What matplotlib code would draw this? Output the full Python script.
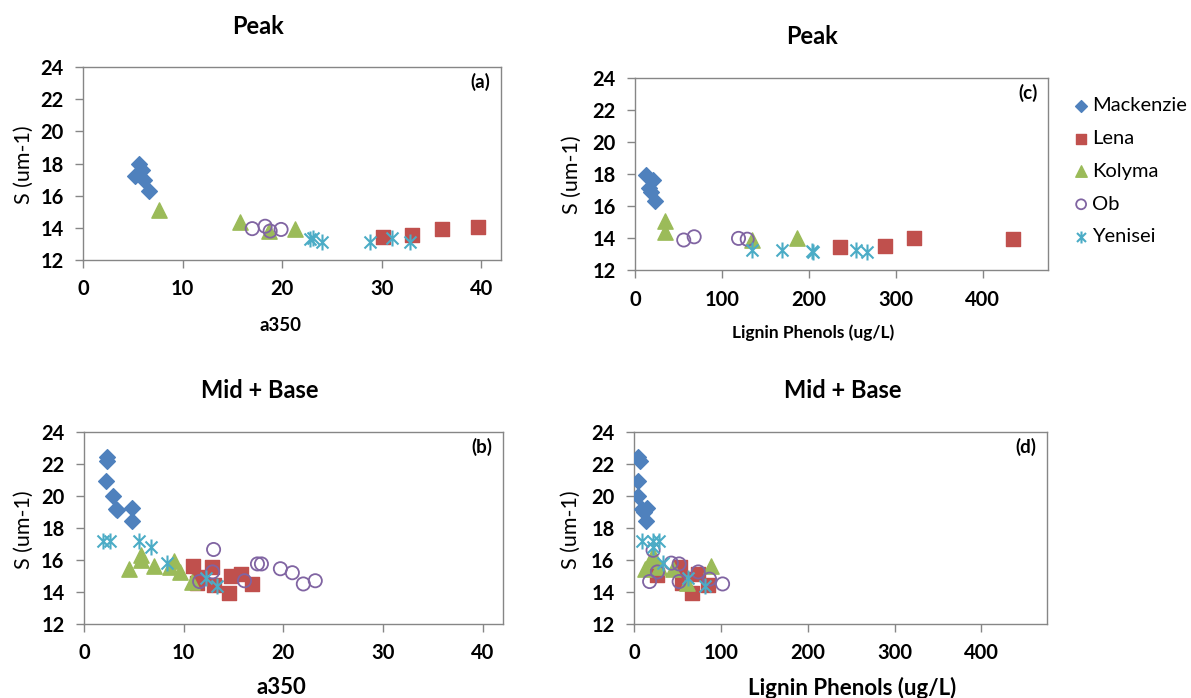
import numpy as np
import matplotlib
matplotlib.use("Agg")
import matplotlib.pyplot as plt
from matplotlib.path import Path

plt.rcParams['font.family'] = ['Lato', 'DejaVu Sans']
plt.rcParams['font.weight'] = 'bold'

# ---- data ----
# (a) Peak, a350
a_mack_x = [5.2, 5.6, 5.9, 6.1, 6.6]
a_mack_y = [17.2, 18.0, 17.6, 17.0, 16.3]
a_lena_x = [30.1, 33.1, 36.1, 39.7]
a_lena_y = [13.45, 13.55, 13.95, 14.05]
a_koly_x = [7.6, 15.8, 18.7, 21.3]
a_koly_y = [15.1, 14.35, 13.8, 13.95]
a_ob_x = [17.0, 18.3, 18.8, 19.9]
a_ob_y = [13.95, 14.1, 13.8, 13.9]
a_yen_x = [22.8, 23.1, 24.0, 28.8, 31.0, 32.9]
a_yen_y = [13.3, 13.35, 13.15, 13.15, 13.35, 13.15]

# (c) Peak, lignin phenols
c_mack_x = [13, 21, 16, 18, 23]
c_mack_y = [17.95, 17.65, 17.15, 16.9, 16.3]
c_lena_x = [236, 287, 321, 435]
c_lena_y = [13.45, 13.55, 14.05, 13.95]
c_koly_x = [35, 35, 134, 186]
c_koly_y = [15.1, 14.4, 13.9, 14.0]
c_ob_x = [56, 68, 119, 129]
c_ob_y = [13.9, 14.1, 14.0, 13.95]
c_yen_x = [135, 169, 203, 205, 254, 267]
c_yen_y = [13.25, 13.3, 13.2, 13.15, 13.3, 13.15]

# (b) Mid + Base, a350
b_mack_x = [2.3, 2.3, 2.2, 2.9, 3.2, 3.3, 4.8, 4.8]
b_mack_y = [22.45, 22.15, 20.95, 20.0, 19.15, 19.1, 19.25, 18.45]
b_lena_x = [10.9, 11.5, 11.3, 12.8, 13.0, 14.5, 14.7, 15.7, 16.9]
b_lena_y = [15.6, 14.95, 14.55, 15.55, 14.45, 13.95, 15.0, 15.15, 14.5]
b_koly_x = [4.5, 5.7, 5.7, 7.0, 8.6, 9.0, 9.6, 10.8]
b_koly_y = [15.45, 16.3, 16.0, 15.6, 15.55, 15.95, 15.25, 14.65]
b_ob_x = [13.0, 12.9, 11.6, 16.1, 17.4, 17.8, 19.7, 20.9, 22.0, 23.2]
b_ob_y = [16.65, 15.25, 14.65, 14.7, 15.75, 15.75, 15.45, 15.2, 14.5, 14.7]
b_yen_x = [1.9, 2.6, 5.5, 6.7, 8.3, 12.2, 13.3]
b_yen_y = [17.15, 17.15, 17.2, 16.8, 15.8, 14.85, 14.35]

# (d) Mid + Base, lignin phenols
d_mack_x = [5, 7, 5, 5, 9, 15, 14, 11]
d_mack_y = [22.45, 22.15, 20.95, 20.0, 19.15, 19.25, 18.4, 19.0]
d_lena_x = [26, 53, 55, 56, 67, 74, 85]
d_lena_y = [15.05, 15.55, 14.55, 14.8, 13.95, 15.15, 14.45]
d_koly_x = [13, 20, 22, 29, 45, 61, 89]
d_koly_y = [15.45, 16.0, 16.3, 15.55, 15.45, 14.55, 15.6]
d_ob_x = [18, 22, 27, 43, 52, 52, 74, 87, 102]
d_ob_y = [14.65, 16.6, 15.25, 15.8, 15.75, 14.65, 15.25, 14.8, 14.5]
d_yen_x = [9, 22, 29, 22, 33, 62, 82]
d_yen_y = [17.15, 17.15, 17.15, 16.8, 15.8, 14.85, 14.35]

names = ['Mackenzie', 'Lena', 'Kolyma', 'Ob', 'Yenisei']

# Excel-like asterisk: X plus vertical bar
star = Path([(0, -1), (0, 1), (-0.75, -0.75), (0.75, 0.75), (-0.75, 0.75), (0.75, -0.75)],
            [Path.MOVETO, Path.LINETO, Path.MOVETO, Path.LINETO, Path.MOVETO, Path.LINETO])

styles = {
    'Mackenzie': dict(marker='D', s=8.0**2, c='#4F81BD', edgecolors='#4F81BD'),
    'Lena': dict(marker='s', s=10**2, c='#C0504D', edgecolors='#C0504D'),
    'Kolyma': dict(marker='^', s=11**2, c='#9BBB59', edgecolors='#9BBB59'),
    'Ob': dict(marker='o', s=9.5**2, facecolors='none', edgecolors='#8064A2', linewidths=1.3),
    'Yenisei': dict(marker=star, s=11.5**2, c='#4BACC6', linewidths=1.5),
}

gray = '#868686'


def draw(ax, series, xmax, xticks, tag):
    for name, (xs, ys) in zip(names, series):
        ax.scatter(xs, ys, label=name, zorder=3, **styles[name])
    ax.set_xlim(0, xmax)
    ax.set_ylim(12, 24)
    ax.set_xticks(xticks)
    ax.set_yticks(range(12, 25, 2))
    for sp in ax.spines.values():
        sp.set_color(gray)
        sp.set_linewidth(1)
    ax.tick_params(direction='out', length=6, color=gray, width=1,
                   labelsize=14.5, pad=8)
    ax.text(0.975, 0.92, tag, transform=ax.transAxes, ha='right', va='center',
            fontsize=13.5, fontweight='bold')


fig = plt.figure(figsize=(11.91, 6.98), dpi=100)

ax_a = fig.add_axes([0.0697, 0.6275, 0.351, 0.2765])
ax_c = fig.add_axes([0.5332, 0.6125, 0.3468, 0.2758])
ax_b = fig.add_axes([0.0705, 0.106, 0.3516, 0.2755])
ax_d = fig.add_axes([0.5323, 0.106, 0.3465, 0.2755])

draw(ax_a, [(a_mack_x, a_mack_y), (a_lena_x, a_lena_y), (a_koly_x, a_koly_y),
            (a_ob_x, a_ob_y), (a_yen_x, a_yen_y)], 42, [0, 10, 20, 30, 40], '(a)')
draw(ax_c, [(c_mack_x, c_mack_y), (c_lena_x, c_lena_y), (c_koly_x, c_koly_y),
            (c_ob_x, c_ob_y), (c_yen_x, c_yen_y)], 475, [0, 100, 200, 300, 400], '(c)')
draw(ax_b, [(b_mack_x, b_mack_y), (b_lena_x, b_lena_y), (b_koly_x, b_koly_y),
            (b_ob_x, b_ob_y), (b_yen_x, b_yen_y)], 42, [0, 10, 20, 30, 40], '(b)')
draw(ax_d, [(d_mack_x, d_mack_y), (d_lena_x, d_lena_y), (d_koly_x, d_koly_y),
            (d_ob_x, d_ob_y), (d_yen_x, d_yen_y)], 475, [0, 100, 200, 300, 400], '(d)')

W, H = 1191, 698


def ftext(px, py, s, **kw):
    fig.text(px / W, 1 - py / H, s, ha='center', va='center', **kw)


# titles
ftext(258, 27, 'Peak', fontsize=17, fontweight='bold')
ftext(812, 37, 'Peak', fontsize=17, fontweight='bold')
ftext(260, 390, 'Mid + Base', fontsize=17, fontweight='bold')
ftext(843, 390, 'Mid + Base', fontsize=17, fontweight='bold')

# axis labels
ftext(281, 325, 'a350', fontsize=13.5, fontweight='bold')
ftext(281, 688, 'a350', fontsize=16, fontweight='bold')
ftext(813, 333, 'Lignin Phenols (ug/L)', fontsize=12.5, fontweight='bold')
ftext(852, 688, 'Lignin Phenols (ug/L)', fontsize=16, fontweight='bold')
ftext(24, 165, 'S (um-1)', fontsize=15.5, fontweight='normal', rotation=90)
ftext(572, 175, 'S (um-1)', fontsize=15.5, fontweight='normal', rotation=90)
ftext(24, 530, 'S (um-1)', fontsize=15.5, fontweight='normal', rotation=90)
ftext(571, 530, 'S (um-1)', fontsize=15.5, fontweight='normal', rotation=90)

handles, labels = ax_a.get_legend_handles_labels()
fig.legend(handles, labels, loc='upper left', bbox_to_anchor=(1063 / W, 1 - 89 / H),
           frameon=False, prop={'size': 14.5, 'weight': 'normal'},
           handletextpad=0.05, labelspacing=0.78,
           handlelength=1.0, markerscale=0.75, borderaxespad=0)

fig.savefig('out.png', dpi=100)
